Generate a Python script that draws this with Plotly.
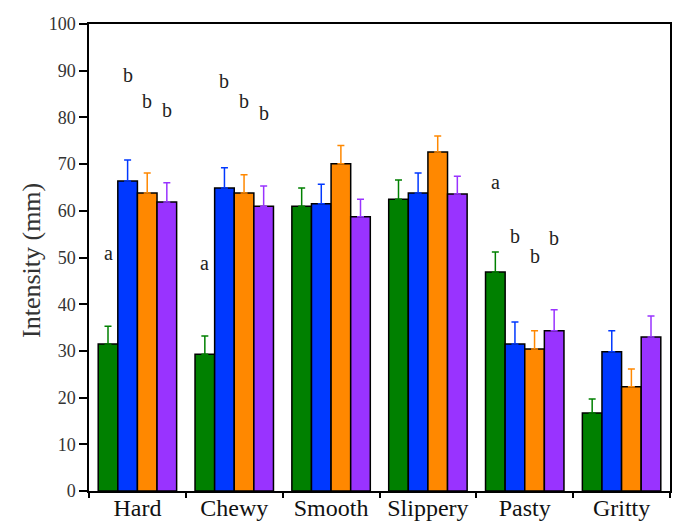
import plotly.graph_objects as go

categories = ["Hard", "Chewy", "Smooth", "Slippery", "Pasty", "Gritty"]
series_names = ["S1", "S2", "S3", "S4"]
colors = ["#008000", "#0038FF", "#FF8800", "#9933FF"]

values = [
    [31.5, 29.3, 61.0, 62.5, 46.9, 16.7],
    [66.4, 64.9, 61.5, 63.8, 31.5, 29.8],
    [63.8, 63.8, 70.1, 72.6, 30.4, 22.3],
    [61.9, 61.0, 58.7, 63.6, 34.3, 33.0],
]
errors = [
    [3.8, 3.9, 3.9, 4.1, 4.3, 3.0],
    [4.5, 4.3, 4.2, 4.3, 4.7, 4.5],
    [4.3, 3.9, 3.9, 3.4, 3.9, 3.8],
    [4.1, 4.3, 3.8, 3.8, 4.5, 4.5],
]

# significance letters: (category index, series index, letter, label height)
letter_cat = [0, 0, 0, 0, 1, 1, 1, 1, 4, 4, 4, 4]
letter_ser = [0, 1, 2, 3, 0, 1, 2, 3, 0, 1, 2, 3]
letter_txt = ["a", "b", "b", "b", "a", "b", "b", "b", "a", "b", "b", "b"]
letter_y = [51.0, 89.1, 83.5, 81.6, 48.8, 87.8, 83.5, 80.9, 66.2, 54.6, 50.3, 54.2]

bargap = 0.19
font_family = "Liberation Serif, Times New Roman, serif"

fig = go.Figure()
for k in range(4):
    fig.add_trace(go.Bar(
        x=categories, y=values[k], name=series_names[k],
        marker=dict(color=colors[k], line=dict(color="black", width=1.5)),
        error_y=dict(type="data", symmetric=False, array=errors[k],
                     arrayminus=[0] * len(categories),
                     color=colors[k], thickness=1.5, width=3.5),
        showlegend=False,
    ))

bw = (1 - bargap) / 4
for c, s, t, yv in zip(letter_cat, letter_ser, letter_txt, letter_y):
    fig.add_annotation(x=c + (s - 1.5) * bw, y=yv, xref="x", yref="y",
                       text=t, showarrow=False,
                       font=dict(family=font_family, size=20, color="#222"))

fig.add_annotation(xref="paper", yref="paper", x=0, y=0.4925, xshift=-58,
                   xanchor="center", yanchor="middle",
                   text="Intensity (mm)", textangle=-90, showarrow=False,
                   font=dict(family=font_family, size=26, color="#333"))

fig.update_layout(
    width=676, height=522,
    margin=dict(l=89, r=6, t=24, b=31, autoexpand=False),
    barmode="group", bargap=bargap, bargroupgap=0,
    plot_bgcolor="white", paper_bgcolor="white",
    font=dict(family=font_family, color="#222"),
)
fig.update_xaxes(
    showline=True, linecolor="black", linewidth=1.5, mirror=True,
    ticks="outside", tickson="boundaries", ticklen=5, tickcolor="black", tickwidth=1.5,
    tickfont=dict(size=24, family=font_family, color="#111"),
    ticklabelstandoff=-6,
    showgrid=False, automargin=False,
)
fig.update_yaxes(
    range=[0, 100], dtick=10, showline=True, linecolor="black", linewidth=1.5, mirror=True,
    ticks="outside", ticklen=8, tickcolor="black", tickwidth=1.5,
    tickfont=dict(size=18, family=font_family, color="#333"),
    showgrid=False, zeroline=False, automargin=False,
)

fig.write_html("out.html")
